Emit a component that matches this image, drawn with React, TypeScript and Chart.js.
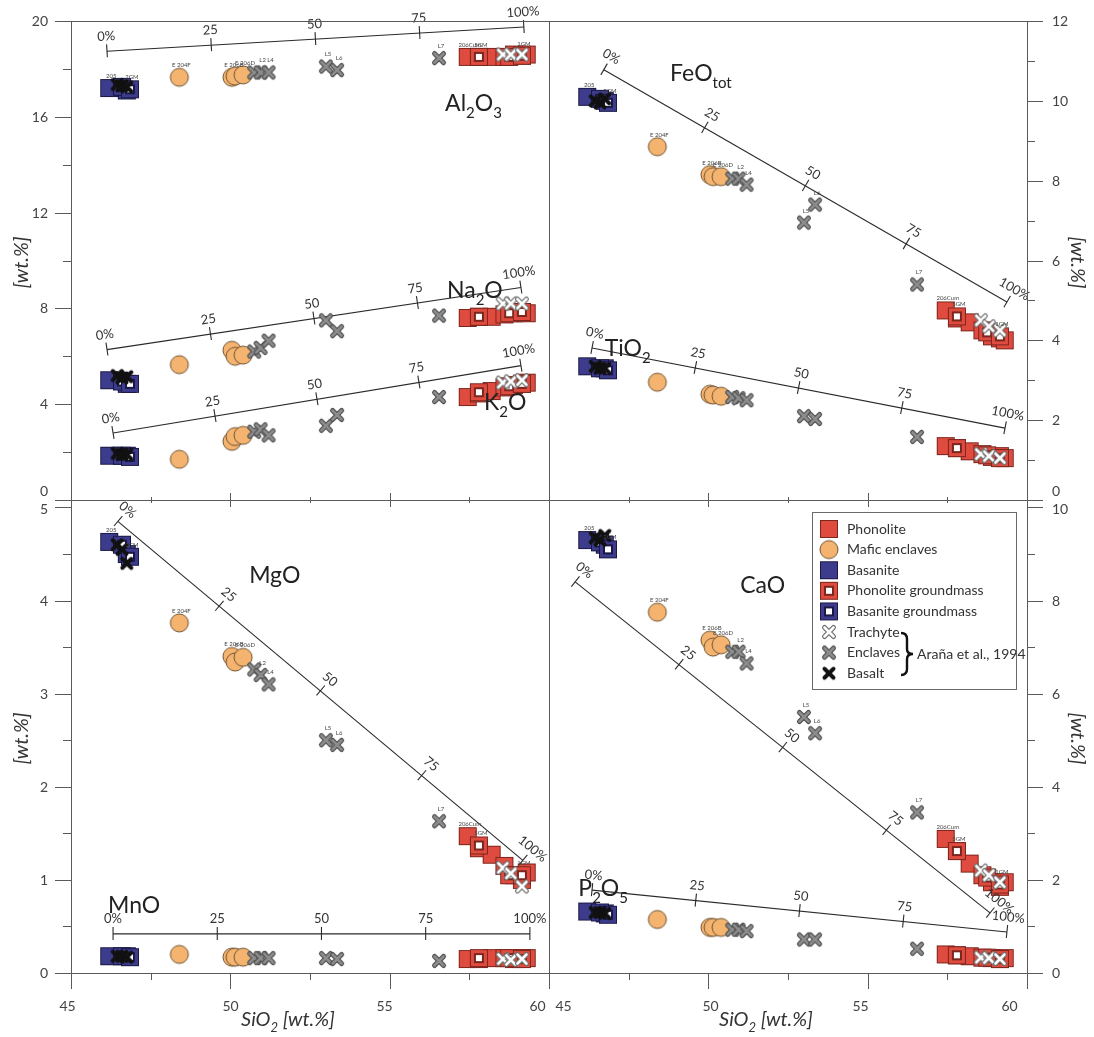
import { useEffect, useRef } from 'react';
import { Chart, registerables } from 'chart.js';

Chart.register(...registerables);

const PAGE_W = 1094;
const PAGE_H = 1037;

// ---- SiO2 of every sample [wt.%] ----
const basaniteSiO2 = [46.2, 46.75];
const basaniteGmSiO2 = [46.6, 46.85];
const basaltSiO2 = [46.45, 46.6, 46.75];
const maficSiO2 = [48.4, 50.05, 50.15, 50.4];
const enclaveSiO2 = [50.75, 50.95, 51.2, 53.0, 53.35, 56.55];
const phonoliteSiO2 = [57.45, 57.8, 58.2, 58.6, 58.9, 59.15, 59.3];
const phonoliteGmSiO2 = [57.8, 58.75, 59.15];
const trachyteSiO2 = [58.55, 58.8, 59.15];

// ---- Al2O3 ----
const al2o3Basanite = [17.2, 17.1];
const al2o3BasaniteGm = [17.25, 17.15];
const al2o3Basalt = [17.35, 17.3, 17.25];
const al2o3Mafic = [17.65, 17.65, 17.7, 17.75];
const al2o3Enclave = [17.85, 17.85, 17.85, 18.1, 17.95, 18.45];
const al2o3Phonolite = [18.5, 18.5, 18.5, 18.5, 18.6, 18.55, 18.6];
const al2o3PhonoliteGm = [18.5, 18.5, 18.55];
const al2o3Trachyte = [18.6, 18.6, 18.6];

// ---- Na2O ----
const na2oBasanite = [5.0, 4.85];
const na2oBasaniteGm = [4.95, 4.85];
const na2oBasalt = [5.2, 5.1, 5.15];
const na2oMafic = [5.65, 6.25, 6.0, 6.05];
const na2oEnclave = [6.2, 6.35, 6.65, 7.5, 7.05, 7.7];
const na2oPhonolite = [7.6, 7.65, 7.65, 7.75, 7.8, 7.85, 7.8];
const na2oPhonoliteGm = [7.65, 7.8, 7.85];
const na2oTrachyte = [8.2, 8.2, 8.2];

// ---- K2O ----
const k2oBasanite = [1.85, 1.85];
const k2oBasaniteGm = [1.85, 1.8];
const k2oBasalt = [1.95, 1.9, 1.9];
const k2oMafic = [1.7, 2.45, 2.65, 2.7];
const k2oEnclave = [2.85, 2.95, 2.7, 3.1, 3.55, 4.3];
const k2oPhonolite = [4.3, 4.45, 4.55, 4.7, 4.8, 4.85, 4.9];
const k2oPhonoliteGm = [4.5, 4.75, 4.85];
const k2oTrachyte = [4.9, 4.95, 5.0];

// ---- FeO total ----
const feoBasanite = [10.1, 10.0];
const feoBasaniteGm = [10.05, 9.95];
const feoBasalt = [10.0, 9.95, 10.05];
const feoMafic = [8.85, 8.15, 8.1, 8.1];
const feoEnclave = [8.05, 8.05, 7.9, 6.95, 7.4, 5.4];
const feoPhonolite = [4.75, 4.55, 4.45, 4.25, 4.1, 4.05, 4.0];
const feoPhonoliteGm = [4.6, 4.2, 4.1];
const feoTrachyte = [4.5, 4.35, 4.25];

// ---- TiO2 ----
const tio2Basanite = [3.35, 3.3];
const tio2BasaniteGm = [3.3, 3.25];
const tio2Basalt = [3.35, 3.3, 3.3];
const tio2Mafic = [2.95, 2.65, 2.63, 2.6];
const tio2Enclave = [2.58, 2.55, 2.5, 2.1, 2.03, 1.58];
const tio2Phonolite = [1.35, 1.3, 1.22, 1.15, 1.08, 1.1, 1.05];
const tio2PhonoliteGm = [1.3, 1.12, 1.05];
const tio2Trachyte = [1.15, 1.1, 1.05];

// ---- MgO ----
const mgoBasanite = [4.63, 4.5];
const mgoBasaniteGm = [4.6, 4.47];
const mgoBasalt = [4.6, 4.55, 4.4];
const mgoMafic = [3.76, 3.4, 3.34, 3.39];
const mgoEnclave = [3.26, 3.2, 3.1, 2.5, 2.45, 1.63];
const mgoPhonolite = [1.47, 1.34, 1.27, 1.15, 1.05, 1.0, 1.08];
const mgoPhonoliteGm = [1.37, 1.05, 1.05];
const mgoTrachyte = [1.13, 1.07, 0.93];

// ---- MnO ----
const mnoBasanite = [0.18, 0.18];
const mnoBasaniteGm = [0.18, 0.17];
const mnoBasalt = [0.18, 0.18, 0.17];
const mnoMafic = [0.2, 0.17, 0.17, 0.17];
const mnoEnclave = [0.16, 0.16, 0.16, 0.16, 0.15, 0.13];
const mnoPhonolite = [0.15, 0.15, 0.16, 0.16, 0.15, 0.16, 0.16];
const mnoPhonoliteGm = [0.16, 0.16, 0.15];
const mnoTrachyte = [0.15, 0.14, 0.15];

// ---- CaO ----
const caoBasanite = [9.3, 9.2];
const caoBasaniteGm = [9.25, 9.1];
const caoBasalt = [9.35, 9.3, 9.4];
const caoMafic = [7.75, 7.15, 7.0, 7.05];
const caoEnclave = [6.9, 6.9, 6.65, 5.5, 5.15, 3.45];
const caoPhonolite = [2.88, 2.62, 2.35, 2.1, 1.95, 1.85, 1.95];
const caoPhonoliteGm = [2.62, 2.05, 1.9];
const caoTrachyte = [2.2, 2.1, 1.95];

// ---- P2O5 ----
const p2o5Basanite = [1.32, 1.28];
const p2o5BasaniteGm = [1.3, 1.25];
const p2o5Basalt = [1.3, 1.3, 1.28];
const p2o5Mafic = [1.15, 0.98, 0.98, 0.98];
const p2o5Enclave = [0.93, 0.93, 0.9, 0.72, 0.72, 0.52];
const p2o5Phonolite = [0.4, 0.38, 0.36, 0.33, 0.32, 0.3, 0.32];
const p2o5PhonoliteGm = [0.38, 0.33, 0.3];
const p2o5Trachyte = [0.33, 0.32, 0.3];

// ---- mixing lines: [SiO2 at 0 %, oxide at 0 %, SiO2 at 100 %, oxide at 100 %] ----
const al2o3Mixing = [46.13, 18.74, 59.21, 19.75];
const na2oMixing = [46.13, 6.28, 59.12, 8.87];
const k2oMixing = [46.32, 2.8, 59.12, 5.61];
const feoMixing = [46.72, 10.78, 59.37, 4.96];
const tio2Mixing = [46.35, 3.81, 59.31, 1.8];
const mgoMixing = [46.47, 4.85, 59.18, 1.21];
const mnoMixing = [46.32, 0.42, 59.4, 0.42];
const caoMixing = [45.82, 8.4, 58.84, 1.29];
const p2o5Mixing = [46.35, 1.78, 59.37, 0.88];

const mixingFractions = [0, 0.25, 0.5, 0.75, 1];
const mixingLabels = ['0%', '25', '50', '75', '100%'];

// ---- axis ticks ----
const siO2Ticks = [45, 47.5, 50, 52.5, 55, 57.5, 60];
const siO2Labels = [45, 50, 55, 60];
const topLeftTicks = [0, 2, 4, 6, 8, 10, 12, 14, 16, 18, 20];
const topLeftLabels = [0, 4, 8, 12, 16, 20];
const topRightTicks = [0, 1, 2, 3, 4, 5, 6, 7, 8, 9, 10, 11, 12];
const topRightLabels = [0, 2, 4, 6, 8, 10, 12];
const bottomLeftTicks = [0, 0.5, 1, 1.5, 2, 2.5, 3, 3.5, 4, 4.5, 5];
const bottomLeftLabels = [0, 1, 2, 3, 4, 5];
const bottomRightTicks = [0, 1, 2, 3, 4, 5, 6, 7, 8, 9, 10];
const bottomRightLabels = [0, 2, 4, 6, 8, 10];

// ---- legend ----
const legendNames = [
  'Phonolite',
  'Mafic enclaves',
  'Basanite',
  'Phonolite groundmass',
  'Basanite groundmass',
  'Trachyte',
  'Enclaves',
  'Basalt',
];
const legendReference = 'Araña et al., 1994';

type GroupKey =
  | 'basanite'
  | 'basaniteGm'
  | 'basalt'
  | 'mafic'
  | 'enclave'
  | 'phonolite'
  | 'phonoliteGm'
  | 'trachyte';

// sample names written next to some symbols
const sampleTags: [GroupKey, number, string][] = [
  ['basanite', 0, '205'],
  ['basaniteGm', 1, '2GM'],
  ['mafic', 0, 'E 204F'],
  ['mafic', 1, 'E 206B'],
  ['mafic', 3, 'E 206D'],
  ['enclave', 1, 'L2'],
  ['enclave', 2, 'L4'],
  ['enclave', 3, 'L5'],
  ['enclave', 4, 'L6'],
  ['enclave', 5, 'L7'],
  ['phonolite', 0, '206Cum'],
  ['phonoliteGm', 0, '5GM'],
  ['phonoliteGm', 2, '1GM'],
];

const GROUP_SIO2: Record<GroupKey, number[]> = {
  basanite: basaniteSiO2,
  basaniteGm: basaniteGmSiO2,
  basalt: basaltSiO2,
  mafic: maficSiO2,
  enclave: enclaveSiO2,
  phonolite: phonoliteSiO2,
  phonoliteGm: phonoliteGmSiO2,
  trachyte: trachyteSiO2,
};

// lower value = drawn on top
const GROUP_ORDER: Record<GroupKey, number> = {
  basalt: 1,
  trachyte: 1,
  enclave: 2,
  mafic: 3,
  phonoliteGm: 4,
  basaniteGm: 4,
  phonolite: 5,
  basanite: 5,
};

const LEGEND_KEYS: GroupKey[] = [
  'phonolite',
  'mafic',
  'basanite',
  'phonoliteGm',
  'basaniteGm',
  'trachyte',
  'enclave',
  'basalt',
];

const RED = '#df4b3f';
const RED_EDGE = '#7d261e';
const NAVY = '#3d3b8c';
const NAVY_EDGE = '#1a1945';
const ORANGE = '#f4b36f';
const ORANGE_EDGE = '#6f5434';
const FONT = 'Lato, "Open Sans", sans-serif';

function makeMarker(kind: GroupKey): HTMLCanvasElement {
  const c = document.createElement('canvas');
  const s = 22;
  c.width = s;
  c.height = s;
  const g = c.getContext('2d')!;
  const m = s / 2;
  const square = (size: number, fill: string, edge: string, lw: number) => {
    g.fillStyle = fill;
    g.fillRect(m - size / 2, m - size / 2, size, size);
    g.strokeStyle = edge;
    g.lineWidth = lw;
    g.strokeRect(m - size / 2, m - size / 2, size, size);
  };
  const cross = (arm: number, color: string, lw: number) => {
    g.strokeStyle = color;
    g.lineWidth = lw;
    g.lineCap = 'round';
    g.beginPath();
    g.moveTo(m - arm, m - arm);
    g.lineTo(m + arm, m + arm);
    g.moveTo(m + arm, m - arm);
    g.lineTo(m - arm, m + arm);
    g.stroke();
  };
  switch (kind) {
    case 'phonolite':
      square(17, RED, RED_EDGE, 1);
      break;
    case 'phonoliteGm':
      square(17, RED, RED_EDGE, 1);
      square(8, '#ffffff', RED_EDGE, 2);
      break;
    case 'basanite':
      square(17, NAVY, NAVY_EDGE, 1);
      break;
    case 'basaniteGm':
      square(17, NAVY, NAVY_EDGE, 1);
      square(8, '#ffffff', NAVY_EDGE, 2);
      break;
    case 'mafic':
      g.fillStyle = ORANGE;
      g.beginPath();
      g.arc(m, m, 9, 0, Math.PI * 2);
      g.fill();
      g.strokeStyle = ORANGE_EDGE;
      g.lineWidth = 1;
      g.stroke();
      break;
    case 'trachyte':
      cross(4.5, '#6e6e6e', 5);
      cross(4.5, '#ffffff', 2.6);
      break;
    case 'enclave':
      cross(4.5, '#4a4a4a', 5);
      cross(4.5, '#8d8d8d', 2.8);
      break;
    case 'basalt':
      cross(4.5, '#111111', 4);
      break;
  }
  return c;
}

interface OxideDef {
  parts: [string, boolean][];
  labelAt: [number, number];
  mixing: number[];
  values: Record<GroupKey, number[]>;
  tags?: boolean;
}

interface PanelDef {
  id: string;
  area: { left: number; top: number; right: number; bottom: number };
  yMax: number;
  yTicks: number[];
  yLabels: number[];
  side: 'left' | 'right';
  bottomRow: boolean;
  xLabelShift: number[];
  oxides: OxideDef[];
  legend?: boolean;
}

const vals = (
  basanite: number[],
  basaniteGm: number[],
  basalt: number[],
  mafic: number[],
  enclave: number[],
  phonolite: number[],
  phonoliteGm: number[],
  trachyte: number[],
): Record<GroupKey, number[]> => ({
  basanite,
  basaniteGm,
  basalt,
  mafic,
  enclave,
  phonolite,
  phonoliteGm,
  trachyte,
});

const PANELS: PanelDef[] = [
  {
    id: 'alkali',
    area: { left: 71, top: 21, right: 549, bottom: 500 },
    yMax: 20,
    yTicks: topLeftTicks,
    yLabels: topLeftLabels,
    side: 'left',
    bottomRow: false,
    xLabelShift: [],
    oxides: [
      {
        parts: [['Al', false], ['2', true], ['O', false], ['3', true]],
        labelAt: [56.74, 16.23],
        mixing: al2o3Mixing,
        values: vals(al2o3Basanite, al2o3BasaniteGm, al2o3Basalt, al2o3Mafic, al2o3Enclave, al2o3Phonolite, al2o3PhonoliteGm, al2o3Trachyte),
        tags: true,
      },
      {
        parts: [['Na', false], ['2', true], ['O', false]],
        labelAt: [56.8, 8.45],
        mixing: na2oMixing,
        values: vals(na2oBasanite, na2oBasaniteGm, na2oBasalt, na2oMafic, na2oEnclave, na2oPhonolite, na2oPhonoliteGm, na2oTrachyte),
      },
      {
        parts: [['K', false], ['2', true], ['O', false]],
        labelAt: [57.96, 3.77],
        mixing: k2oMixing,
        values: vals(k2oBasanite, k2oBasaniteGm, k2oBasalt, k2oMafic, k2oEnclave, k2oPhonolite, k2oPhonoliteGm, k2oTrachyte),
      },
    ],
  },
  {
    id: 'fe-ti',
    area: { left: 549, top: 21, right: 1027, bottom: 500 },
    yMax: 12,
    yTicks: topRightTicks,
    yLabels: topRightLabels,
    side: 'right',
    bottomRow: false,
    xLabelShift: [],
    oxides: [
      {
        parts: [['FeO', false], ['tot', true]],
        labelAt: [48.8, 10.5],
        mixing: feoMixing,
        values: vals(feoBasanite, feoBasaniteGm, feoBasalt, feoMafic, feoEnclave, feoPhonolite, feoPhonoliteGm, feoTrachyte),
        tags: true,
      },
      {
        parts: [['TiO', false], ['2', true]],
        labelAt: [46.75, 3.6],
        mixing: tio2Mixing,
        values: vals(tio2Basanite, tio2BasaniteGm, tio2Basalt, tio2Mafic, tio2Enclave, tio2Phonolite, tio2PhonoliteGm, tio2Trachyte),
      },
    ],
  },
  {
    id: 'mg-mn',
    area: { left: 71, top: 500, right: 549, bottom: 973 },
    yMax: 5.08,
    yTicks: bottomLeftTicks,
    yLabels: bottomLeftLabels,
    side: 'left',
    bottomRow: true,
    xLabelShift: [-4, 0, -6, -12],
    oxides: [
      {
        parts: [['MgO', false]],
        labelAt: [50.59, 4.19],
        mixing: mgoMixing,
        values: vals(mgoBasanite, mgoBasaniteGm, mgoBasalt, mgoMafic, mgoEnclave, mgoPhonolite, mgoPhonoliteGm, mgoTrachyte),
        tags: true,
      },
      {
        parts: [['MnO', false]],
        labelAt: [46.16, 0.64],
        mixing: mnoMixing,
        values: vals(mnoBasanite, mnoBasaniteGm, mnoBasalt, mnoMafic, mnoEnclave, mnoPhonolite, mnoPhonoliteGm, mnoTrachyte),
      },
    ],
  },
  {
    id: 'ca-p',
    area: { left: 549, top: 500, right: 1027, bottom: 973 },
    yMax: 10.16,
    yTicks: bottomRightTicks,
    yLabels: bottomRightLabels,
    side: 'right',
    bottomRow: true,
    xLabelShift: [14, 2, -8, -18],
    legend: true,
    oxides: [
      {
        parts: [['CaO', false]],
        labelAt: [51.0, 8.16],
        mixing: caoMixing,
        values: vals(caoBasanite, caoBasaniteGm, caoBasalt, caoMafic, caoEnclave, caoPhonolite, caoPhonoliteGm, caoTrachyte),
        tags: true,
      },
      {
        parts: [['P', false], ['2', true], ['O', false], ['5', true]],
        labelAt: [45.92, 1.66],
        mixing: p2o5Mixing,
        values: vals(p2o5Basanite, p2o5BasaniteGm, p2o5Basalt, p2o5Mafic, p2o5Enclave, p2o5Phonolite, p2o5PhonoliteGm, p2o5Trachyte),
      },
    ],
  },
];

function drawRich(
  ctx: CanvasRenderingContext2D,
  parts: [string, boolean][],
  x: number,
  y: number,
  size: number,
  style = '',
) {
  let cx = x;
  for (const [t, sub] of parts) {
    const fs = sub ? Math.round(size * 0.66) : size;
    ctx.font = `${style} ${fs}px ${FONT}`;
    ctx.fillText(t, cx, sub ? y + size * 0.3 : y);
    cx += ctx.measureText(t).width;
  }
}

function richWidth(ctx: CanvasRenderingContext2D, parts: [string, boolean][], size: number, style = '') {
  let w = 0;
  for (const [t, sub] of parts) {
    const fs = sub ? Math.round(size * 0.66) : size;
    ctx.font = `${style} ${fs}px ${FONT}`;
    w += ctx.measureText(t).width;
  }
  return w;
}

function makeDecor(panel: PanelDef, markers: Record<GroupKey, HTMLCanvasElement>) {
  return {
    id: 'decor-' + panel.id,
    afterDatasetsDraw(chart: Chart) {
      const ctx = chart.ctx;
      const xs = chart.scales.x;
      const ys = chart.scales.y;
      ctx.save();
      // mixing-line ticks and percentages
      for (const ox of panel.oxides) {
        const [x0, y0, x1, y1] = ox.mixing;
        const p0 = { x: xs.getPixelForValue(x0), y: ys.getPixelForValue(y0) };
        const p1 = { x: xs.getPixelForValue(x1), y: ys.getPixelForValue(y1) };
        const len = Math.hypot(p1.x - p0.x, p1.y - p0.y);
        const d = { x: (p1.x - p0.x) / len, y: (p1.y - p0.y) / len };
        const n = { x: d.y, y: -d.x };
        const ang = Math.atan2(d.y, d.x);
        ctx.strokeStyle = '#2a2a2a';
        ctx.lineWidth = 1.1;
        mixingFractions.forEach((f, i) => {
          const px = p0.x + (p1.x - p0.x) * f;
          const py = p0.y + (p1.y - p0.y) * f;
          ctx.beginPath();
          ctx.moveTo(px - n.x * 6, py - n.y * 6);
          ctx.lineTo(px + n.x * 7, py + n.y * 7);
          ctx.stroke();
          ctx.save();
          ctx.translate(px + n.x * 15, py + n.y * 15);
          ctx.rotate(ang);
          ctx.fillStyle = '#333';
          ctx.font = `13px ${FONT}`;
          ctx.textAlign = 'center';
          ctx.textBaseline = 'middle';
          ctx.fillText(mixingLabels[i], 0, 0);
          ctx.restore();
        });
      }
      // sample names
      ctx.fillStyle = '#444';
      ctx.font = `6px ${FONT}`;
      ctx.textAlign = 'center';
      ctx.textBaseline = 'bottom';
      for (const ox of panel.oxides) {
        if (!ox.tags) continue;
        for (const [g, i, t] of sampleTags) {
          const sx = GROUP_SIO2[g][i];
          const sy = ox.values[g][i];
          ctx.fillText(t, xs.getPixelForValue(sx) + 2, ys.getPixelForValue(sy) - 9);
        }
      }
      ctx.restore();
    },
    afterDraw(chart: Chart) {
      const ctx = chart.ctx;
      const a = chart.chartArea;
      const xs = chart.scales.x;
      const ys = chart.scales.y;
      ctx.save();
      ctx.strokeStyle = '#5a5a5a';
      ctx.lineWidth = 1;
      ctx.strokeRect(a.left + 0.5, a.top + 0.5, a.right - a.left, a.bottom - a.top);

      // value axis
      ctx.font = `14px ${FONT}`;
      ctx.fillStyle = '#444';
      ctx.textBaseline = 'middle';
      for (const v of panel.yTicks) {
        const py = Math.round(ys.getPixelForValue(v)) + 0.5;
        const major = panel.yLabels.includes(v);
        const len = major ? 16 : 8;
        ctx.beginPath();
        if (panel.side === 'left') {
          ctx.moveTo(a.left - len, py);
          ctx.lineTo(a.left, py);
        } else {
          ctx.moveTo(a.right, py);
          ctx.lineTo(a.right + len, py);
        }
        ctx.stroke();
        if (major) {
          let ly = py;
          if (!panel.bottomRow && v === 0) ly -= 9;
          if (panel.bottomRow && v === panel.yLabels[panel.yLabels.length - 1]) ly += 2;
          if (panel.side === 'left') {
            ctx.textAlign = 'right';
            ctx.fillText(String(v), a.left - 23, ly);
          } else {
            ctx.textAlign = 'left';
            ctx.fillText(String(v), a.right + 25, ly);
          }
        }
      }

      // SiO2 axis
      for (const v of siO2Ticks) {
        const px = Math.round(xs.getPixelForValue(v)) + 0.5;
        const li = siO2Labels.indexOf(v);
        const major = li >= 0;
        ctx.beginPath();
        if (panel.bottomRow) {
          ctx.moveTo(px, a.bottom);
          ctx.lineTo(px, a.bottom + (major ? 16 : 7));
        } else {
          const h = major ? 7 : 3;
          ctx.moveTo(px, a.bottom - h);
          ctx.lineTo(px, a.bottom + h);
        }
        ctx.stroke();
        if (panel.bottomRow && major) {
          ctx.textAlign = 'center';
          ctx.fillText(String(v), px + panel.xLabelShift[li], a.bottom + 33);
        }
      }

      // axis titles
      ctx.fillStyle = '#333';
      ctx.textAlign = 'center';
      ctx.textBaseline = 'middle';
      ctx.font = `italic 20px ${FONT}`;
      const midY = (a.top + a.bottom) / 2 + 2;
      ctx.save();
      if (panel.side === 'left') {
        ctx.translate(22, midY);
        ctx.rotate(-Math.PI / 2);
      } else {
        ctx.translate(1077, midY);
        ctx.rotate(Math.PI / 2);
      }
      ctx.fillText('[wt.%]', 0, 0);
      ctx.restore();
      if (panel.bottomRow) {
        const parts: [string, boolean][] = [['SiO', false], ['2', true], [' [wt.%]', false]];
        const w = richWidth(ctx, parts, 20, 'italic');
        ctx.textAlign = 'left';
        ctx.textBaseline = 'alphabetic';
        drawRich(ctx, parts, (a.left + a.right) / 2 - w / 2 - 22, a.bottom + 53, 20, 'italic');
      }

      // oxide names
      ctx.fillStyle = '#222';
      ctx.textAlign = 'left';
      ctx.textBaseline = 'alphabetic';
      for (const ox of panel.oxides) {
        drawRich(ctx, ox.parts, xs.getPixelForValue(ox.labelAt[0]), ys.getPixelForValue(ox.labelAt[1]), 23);
      }

      // legend
      if (panel.legend) {
        ctx.fillStyle = '#ffffff';
        ctx.fillRect(812, 512, 204, 177);
        ctx.strokeStyle = '#6a6a6a';
        ctx.strokeRect(812.5, 512.5, 204, 177);
        ctx.font = `14px ${FONT}`;
        ctx.fillStyle = '#333';
        ctx.textBaseline = 'middle';
        LEGEND_KEYS.forEach((k, i) => {
          const cy = 529 + i * 20.6;
          const mk = markers[k];
          ctx.drawImage(mk, 829 - mk.width / 2, cy - mk.height / 2);
          ctx.fillText(legendNames[i], 847, cy);
        });
        // brace grouping the literature data
        ctx.strokeStyle = '#111';
        ctx.lineWidth = 2.4;
        const bx = 901;
        const top = 633;
        const bottom = 675;
        const mid = 654;
        ctx.beginPath();
        ctx.moveTo(bx, top);
        ctx.quadraticCurveTo(bx + 6, top, bx + 6, top + 6);
        ctx.lineTo(bx + 6, mid - 5);
        ctx.quadraticCurveTo(bx + 6, mid, bx + 12, mid);
        ctx.quadraticCurveTo(bx + 6, mid, bx + 6, mid + 5);
        ctx.lineTo(bx + 6, bottom - 6);
        ctx.quadraticCurveTo(bx + 6, bottom, bx, bottom);
        ctx.stroke();
        ctx.fillText(legendReference, 917, 654);
      }
      ctx.restore();
    },
  };
}

function PanelChart({ panel, markers }: { panel: PanelDef; markers: Record<GroupKey, HTMLCanvasElement> }) {
  const ref = useRef<HTMLCanvasElement>(null);
  useEffect(() => {
    if (!ref.current) return;
    const a = panel.area;
    const datasets: any[] = [];
    for (const ox of panel.oxides) {
      const [x0, y0, x1, y1] = ox.mixing;
      datasets.push({
        data: [
          { x: x0, y: y0 },
          { x: x1, y: y1 },
        ],
        showLine: true,
        borderColor: '#2a2a2a',
        borderWidth: 1.1,
        pointRadius: 0,
        order: 9,
        clip: false,
      });
      (Object.keys(GROUP_SIO2) as GroupKey[]).forEach((g) => {
        datasets.push({
          data: GROUP_SIO2[g].map((x, i) => ({ x, y: ox.values[g][i] })),
          pointStyle: markers[g],
          pointRadius: 10,
          order: GROUP_ORDER[g],
          clip: false,
        });
      });
    }
    const chart = new Chart(ref.current, {
      type: 'scatter',
      data: { datasets },
      options: {
        responsive: false,
        animation: false,
        events: [],
        layout: {
          padding: { left: a.left, top: a.top, right: PAGE_W - a.right, bottom: PAGE_H - a.bottom },
        },
        scales: {
          x: { type: 'linear', min: 45, max: 60, display: false },
          y: { type: 'linear', min: 0, max: panel.yMax, display: false },
        },
        plugins: { legend: { display: false }, tooltip: { enabled: false } },
      },
      plugins: [makeDecor(panel, markers)],
    });
    return () => chart.destroy();
  }, [panel, markers]);
  return (
    <canvas
      ref={ref}
      width={PAGE_W}
      height={PAGE_H}
      style={{ position: 'absolute', left: 0, top: 0, width: PAGE_W, height: PAGE_H }}
    />
  );
}

const MARKERS: Record<GroupKey, HTMLCanvasElement> = {
  basanite: makeMarker('basanite'),
  basaniteGm: makeMarker('basaniteGm'),
  basalt: makeMarker('basalt'),
  mafic: makeMarker('mafic'),
  enclave: makeMarker('enclave'),
  phonolite: makeMarker('phonolite'),
  phonoliteGm: makeMarker('phonoliteGm'),
  trachyte: makeMarker('trachyte'),
};

export default function App() {
  return (
    <div style={{ position: 'absolute', left: 0, top: 0, width: PAGE_W, height: PAGE_H, background: '#fff' }}>
      {PANELS.map((p) => (
        <PanelChart key={p.id} panel={p} markers={MARKERS} />
      ))}
    </div>
  );
}
